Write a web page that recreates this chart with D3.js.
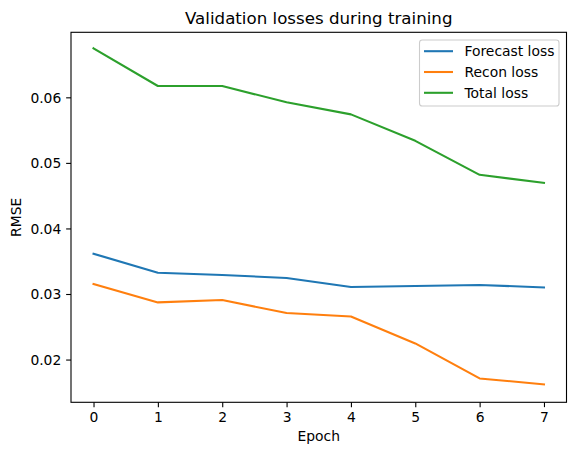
<!DOCTYPE html>
<html><head><meta charset="utf-8">
<script src="https://cdn.jsdelivr.net/npm/d3@7"></script>
<style>body{margin:0;background:#fff}svg{display:block}text{font-family:"DejaVu Sans",sans-serif;fill:#000}</style>
</head><body><svg id="c" width="576" height="455"></svg>
<script>
const epochs = [0,1,2,3,4,5,6,7];
const forecastLoss = [0.03615,0.03325,0.0329,0.03244,0.03107,0.03122,0.03137,0.03101];
const reconLoss = [0.03153,0.02872,0.02908,0.0271,0.02658,0.02246,0.01712,0.01621];
const totalLoss = [0.06748,0.06173,0.06173,0.05924,0.0574,0.05337,0.04818,0.04696];
const seriesNames = ["Forecast loss","Recon loss","Total loss"];
const seriesColors = ["#1f77b4","#ff7f0e","#2ca02c"];
const xTicks = [0,1,2,3,4,5,6,7];
const yTicks = [0.02,0.03,0.04,0.05,0.06];

const svg = d3.select("#c");
const L=71, R=566.5, T=32.3, B=402.3;
const x = d3.scaleLinear().domain([-0.35,7.35]).range([L,R]);
const y = d3.scaleLinear().domain([0.01348,0.06992]).range([B,T]);
const fs = 13.89;

const series = [forecastLoss, reconLoss, totalLoss];
const line = d3.line().x((d,i)=>x(epochs[i])).y(d=>y(d));
series.forEach((s,k)=>{
  svg.append("path").attr("d",line(s)).attr("fill","none")
    .attr("stroke",seriesColors[k]).attr("stroke-width",2.08)
    .attr("stroke-linejoin","round").attr("stroke-linecap","square");
});

// axes
const xa = svg.append("g").attr("transform",`translate(0,${B})`)
  .call(d3.axisBottom(x).tickValues(xTicks).tickFormat(d3.format("d")).tickSize(4.86).tickPadding(4.86));
const ya = svg.append("g").attr("transform",`translate(${L},0)`)
  .call(d3.axisLeft(y).tickValues(yTicks).tickFormat(d3.format(".2f")).tickSize(4.86).tickPadding(4.86));
[xa,ya].forEach(a=>{
  a.select(".domain").remove();
  a.selectAll(".tick line").attr("stroke","#000").attr("stroke-width",1.1);
  a.selectAll(".tick text").attr("font-size",fs).attr("font-family","DejaVu Sans").attr("fill","#000");
});
xa.selectAll(".tick text").attr("dy",null).attr("y",20);
ya.selectAll(".tick text").attr("dy","0.35em");

svg.append("rect").attr("x",L).attr("y",T).attr("width",R-L).attr("height",B-T)
  .attr("fill","none").attr("stroke","#000").attr("stroke-width",1.1);

svg.append("text").attr("x",(L+R)/2).attr("y",24).attr("text-anchor","middle")
  .attr("font-size",16.67).text("Validation losses during training");
svg.append("text").attr("x",(L+R)/2).attr("y",440.5).attr("text-anchor","middle")
  .attr("font-size",fs).text("Epoch");
svg.append("text").attr("transform","translate(21,217.3) rotate(-90)").attr("text-anchor","middle")
  .attr("font-size",fs).text("RMSE");

// legend
const lg = svg.append("g");
lg.append("rect").attr("x",419.5).attr("y",40).attr("width",139.5).attr("height",66)
  .attr("rx",2.8).attr("fill","#fff").attr("fill-opacity",0.8).attr("stroke","#ccc").attr("stroke-width",1.1);
seriesNames.forEach((n,k)=>{
  const yy = 51.2 + k*20.8;
  lg.append("line").attr("x1",424).attr("x2",453).attr("y1",yy).attr("y2",yy)
    .attr("stroke",seriesColors[k]).attr("stroke-width",2.08);
  lg.append("text").attr("x",464.5).attr("y",yy).attr("dy","0.35em").attr("font-size",fs).text(n);
});
</script></body></html>
